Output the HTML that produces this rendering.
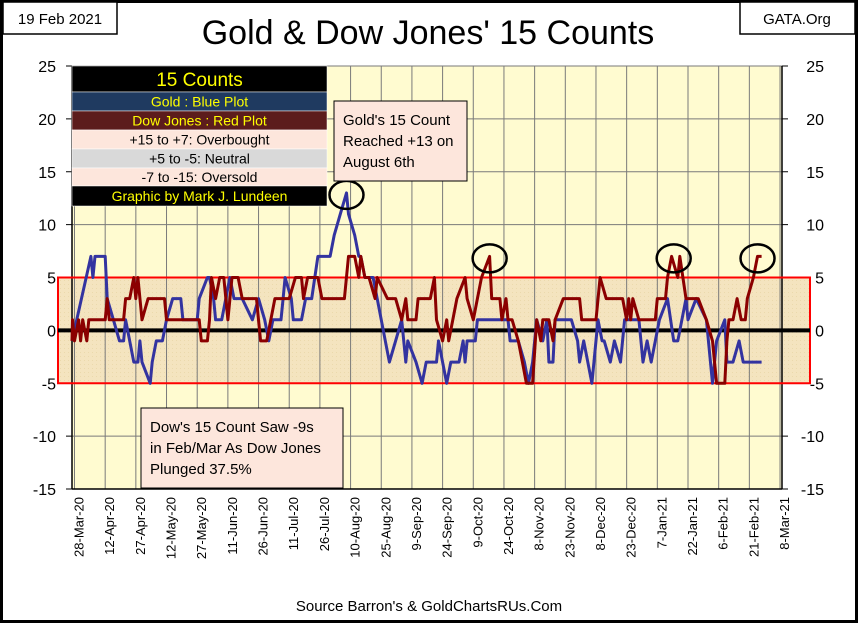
<!DOCTYPE html>
<html><head><meta charset="utf-8"><style>
body{margin:0;background:#fff}
svg text{font-family:"Liberation Sans",sans-serif}
</style></head><body>
<svg id="chart" width="858" height="623" xmlns="http://www.w3.org/2000/svg">
<defs><pattern id="dots" width="4" height="4" patternUnits="userSpaceOnUse"><rect width="4" height="4" fill="#f4e4bf"/><rect width="1" height="1" fill="#ebd9ac"/></pattern></defs>
<rect x="1.5" y="1.5" width="855" height="620" fill="#fff" stroke="#000" stroke-width="3"/>
<rect x="3" y="2" width="114" height="32" fill="#fff" stroke="#000" stroke-width="1.5"/>
<text x="60" y="24" font-size="15" text-anchor="middle">19 Feb 2021</text>
<rect x="740" y="2" width="115" height="32" fill="#fff" stroke="#000" stroke-width="1.5"/>
<text x="797" y="24" font-size="15" text-anchor="middle">GATA.Org</text>
<text x="428" y="44" font-size="34" text-anchor="middle">Gold &amp; Dow Jones' 15 Counts</text>
<text x="429" y="611" font-size="15" text-anchor="middle">Source Barron's &amp; GoldChartsRUs.Com</text>
<g id="plot"></g>
</svg>
<script>
const yTicks=[25,20,15,10,5,0,-5,-10,-15];
const xTickLabels=["28-Mar-20","12-Apr-20","27-Apr-20","12-May-20","27-May-20","11-Jun-20","26-Jun-20","11-Jul-20","26-Jul-20","10-Aug-20","25-Aug-20","9-Sep-20","24-Sep-20","9-Oct-20","24-Oct-20","8-Nov-20","23-Nov-20","8-Dec-20","23-Dec-20","7-Jan-21","22-Jan-21","6-Feb-21","21-Feb-21","8-Mar-21"];
const goldDays=[-2,8,9,10,15,16,19,22,24,25,29,31,32,33,37,38,40,43,45,48,52,53,60,61,65,66,68,69,72,76,78,82,87,90,93,95,97,101,102,103,106,107,111,113,116,119,125,127,130,133,134,137,139,140,142,146,148,152,154,157,160,162,163,167,170,172,177,178,180,182,184,188,190,191,192,196,197,212,213,217,220,222,224,226,229,231,232,234,235,243,246,247,249,253,256,258,259,262,264,267,269,276,278,280,282,286,290,293,295,299,300,304,309,312,314,318,319,322,325,327,336];
const goldVals=[-1,7,5,7,7,3,1,-1,-1,1,-3,-3,-1,-3,-5,-3,-1,-1,1,3,3,1,1,3,5,5,3,1,1,5,3,3,1,3,1,-1,1,1,3,5,3,1,1,3,3,7,7,9,11,13,11,9,7,7,5,5,3,-1,-3,-1,1,-3,-1,-3,-5,-3,-3,-1,-3,-5,-3,-3,-1,-3,-1,-1,1,1,-1,-1,-3,-5,-3,1,-1,1,-3,-3,1,1,-1,-3,-1,-5,1,-1,-1,-3,-1,-3,1,1,-3,-1,-3,1,3,-1,-1,3,1,3,1,-5,-1,1,-3,-3,-1,-3,-3];
const dowDays=[-2,-1,0,2,3,4,6,7,15,16,17,23,24,25,27,29,30,31,33,36,44,45,61,62,65,66,67,69,71,73,75,77,80,82,89,90,91,94,96,98,103,105,108,111,112,114,119,121,132,134,137,139,140,142,144,147,148,153,157,160,162,163,167,168,174,176,177,180,182,183,185,187,191,192,195,199,203,204,208,209,211,212,214,217,219,221,224,226,228,229,232,234,235,239,247,248,255,257,260,268,270,271,272,273,276,284,285,289,290,292,295,296,299,305,309,312,314,318,319,320,322,324,326,328,329,332,334,336];
const dowVals=[-1,1,-1,1,-1,1,-1,1,1,3,1,1,1,3,3,5,3,5,1,3,3,1,1,-1,-1,1,5,3,5,5,1,5,5,3,3,1,-1,-1,1,3,3,3,5,5,3,5,5,3,3,7,7,5,7,5,5,3,5,3,3,1,3,1,1,3,3,5,1,-1,1,-1,1,3,5,3,1,5,7,3,3,1,3,1,1,-1,-3,-5,-5,1,-1,1,1,-1,1,3,3,1,1,5,3,3,1,3,1,3,1,1,3,3,5,7,5,7,3,3,1,-1,-5,-5,-1,1,1,3,1,1,3,5,7,7];
const circleDays=[133,203,293,334];
const circleVals=[13,7,7,7];

const NS="http://www.w3.org/2000/svg";
const L=72,R=782,T=66,B=489;
const xs=d=>74.5+2.045*d;
const ys=v=>T+(25-v)*(B-T)/40;
const g=document.getElementById('plot');
function mk(tag,at,parent){const e=document.createElementNS(NS,tag);for(const k in at)e.setAttribute(k,at[k]);(parent||g).appendChild(e);return e;}
let e;
e=mk('rect',{x:L,y:T,width:R-L,height:B-T,fill:'#fffbd0'});


e=mk('rect',{x:58,y:ys(5),width:752,height:ys(-5)-ys(5),fill:'url(#dots)'});


xTickLabels.forEach((lab,i)=>{
 const x=xs(15*i);
 if(x>L&&x<R){e=mk('line',{x1:x,x2:x,y1:T,y2:B,stroke:'#7a7a7a',"stroke-width":1});
 
 }
 e=mk('text',{x:0,y:0,"font-size":13,"text-anchor":"end",transform:`translate(${x+9},${B+8}) rotate(-90)`});
 e.textContent=lab;
 
 
});
yTicks.forEach(v=>{
 const y=ys(v);
 e=mk('line',{x1:L,x2:R,y1:y,y2:y,stroke:'#7a7a7a',"stroke-width":1});
 
 
 mk('line',{x1:L-6,x2:L,y1:y,y2:y,stroke:'#000'});
 mk('line',{x1:R,x2:R+6,y1:y,y2:y,stroke:'#000'});
 e=mk('text',{x:L-16,y:y+6,"font-size":16,"text-anchor":"end"});e.textContent=v;
 
 
 e=mk('text',{x:R+42,y:y+6,"font-size":16,"text-anchor":"end"});e.textContent=v;
 
 
});
mk('line',{x1:L,x2:L,y1:T,y2:B,stroke:'#000',"stroke-width":1.5});
mk('line',{x1:R,x2:R,y1:T,y2:B,stroke:'#000',"stroke-width":1.5});
mk('line',{x1:L,x2:R,y1:B,y2:B,stroke:'#000',"stroke-width":1.5});
e=mk('rect',{x:58,y:ys(5),width:752,height:ys(-5)-ys(5),fill:'none',stroke:'#ff0000',"stroke-width":2});


e=mk('line',{x1:58,x2:810,y1:ys(0),y2:ys(0),stroke:'#000',"stroke-width":4});


function series(days,vals,color){
 const pts=days.map((d,i)=>Math.max(L,xs(d)).toFixed(1)+','+ys(vals[i]).toFixed(1)).join(' ');
 return mk('polyline',{points:pts,fill:'none',stroke:color,"stroke-width":3,"stroke-linejoin":"round"});
}
e=series(goldDays,goldVals,'#3333a0');


e=series(dowDays,dowVals,'#8b0000');


circleDays.forEach((d,i)=>{
 e=mk('ellipse',{cx:xs(d),cy:ys(circleVals[i])+2,rx:17,ry:14,fill:'none',stroke:'#000',"stroke-width":2.5});
 
 
});
const rows=[["15 Counts","#000","#ffff00",19,26],["Gold : Blue Plot","#1f3a60","#ffff00",14,19],["Dow Jones : Red Plot","#5c1c1c","#ffff00",14,19],["+15 to +7: Overbought","#fde6dc","#000",14,19],["+5 to -5: Neutral","#d9d9d9","#000",14,19],["-7 to -15: Oversold","#fde6dc","#000",14,18],["Graphic by Mark J. Lundeen","#000","#ffff00",14,20]];
let yy=66;
const lg=mk('g',{});


rows.forEach(r=>{
 mk('rect',{x:72,y:yy,width:255,height:r[4],fill:r[1],stroke:'#fff',"stroke-width":0.5},lg);
 const t=mk('text',{x:199.5,y:yy+r[4]/2+r[3]*0.36,"font-size":r[3],"text-anchor":"middle",fill:r[2]},lg);
 t.textContent=r[0];
 
 
 yy+=r[4];
});
function note(x,y,w,h,lines,name){
 const gg=mk('g',{});
 
 
 mk('rect',{x:x,y:y,width:w,height:h,fill:'#fde6dc',stroke:'#000',"stroke-width":1},gg);
 lines.forEach((l,i)=>{const t=mk('text',{x:x+9,y:y+24+i*21,"font-size":15},gg);t.textContent=l;});
}
note(334,101,133,80,["Gold's 15 Count","Reached +13 on","August 6th"],'gold-annotation');
note(141,408,202,80,["Dow's 15 Count Saw -9s","in Feb/Mar As Dow Jones","Plunged 37.5%"],'dow-annotation');
</script>
</body></html>
